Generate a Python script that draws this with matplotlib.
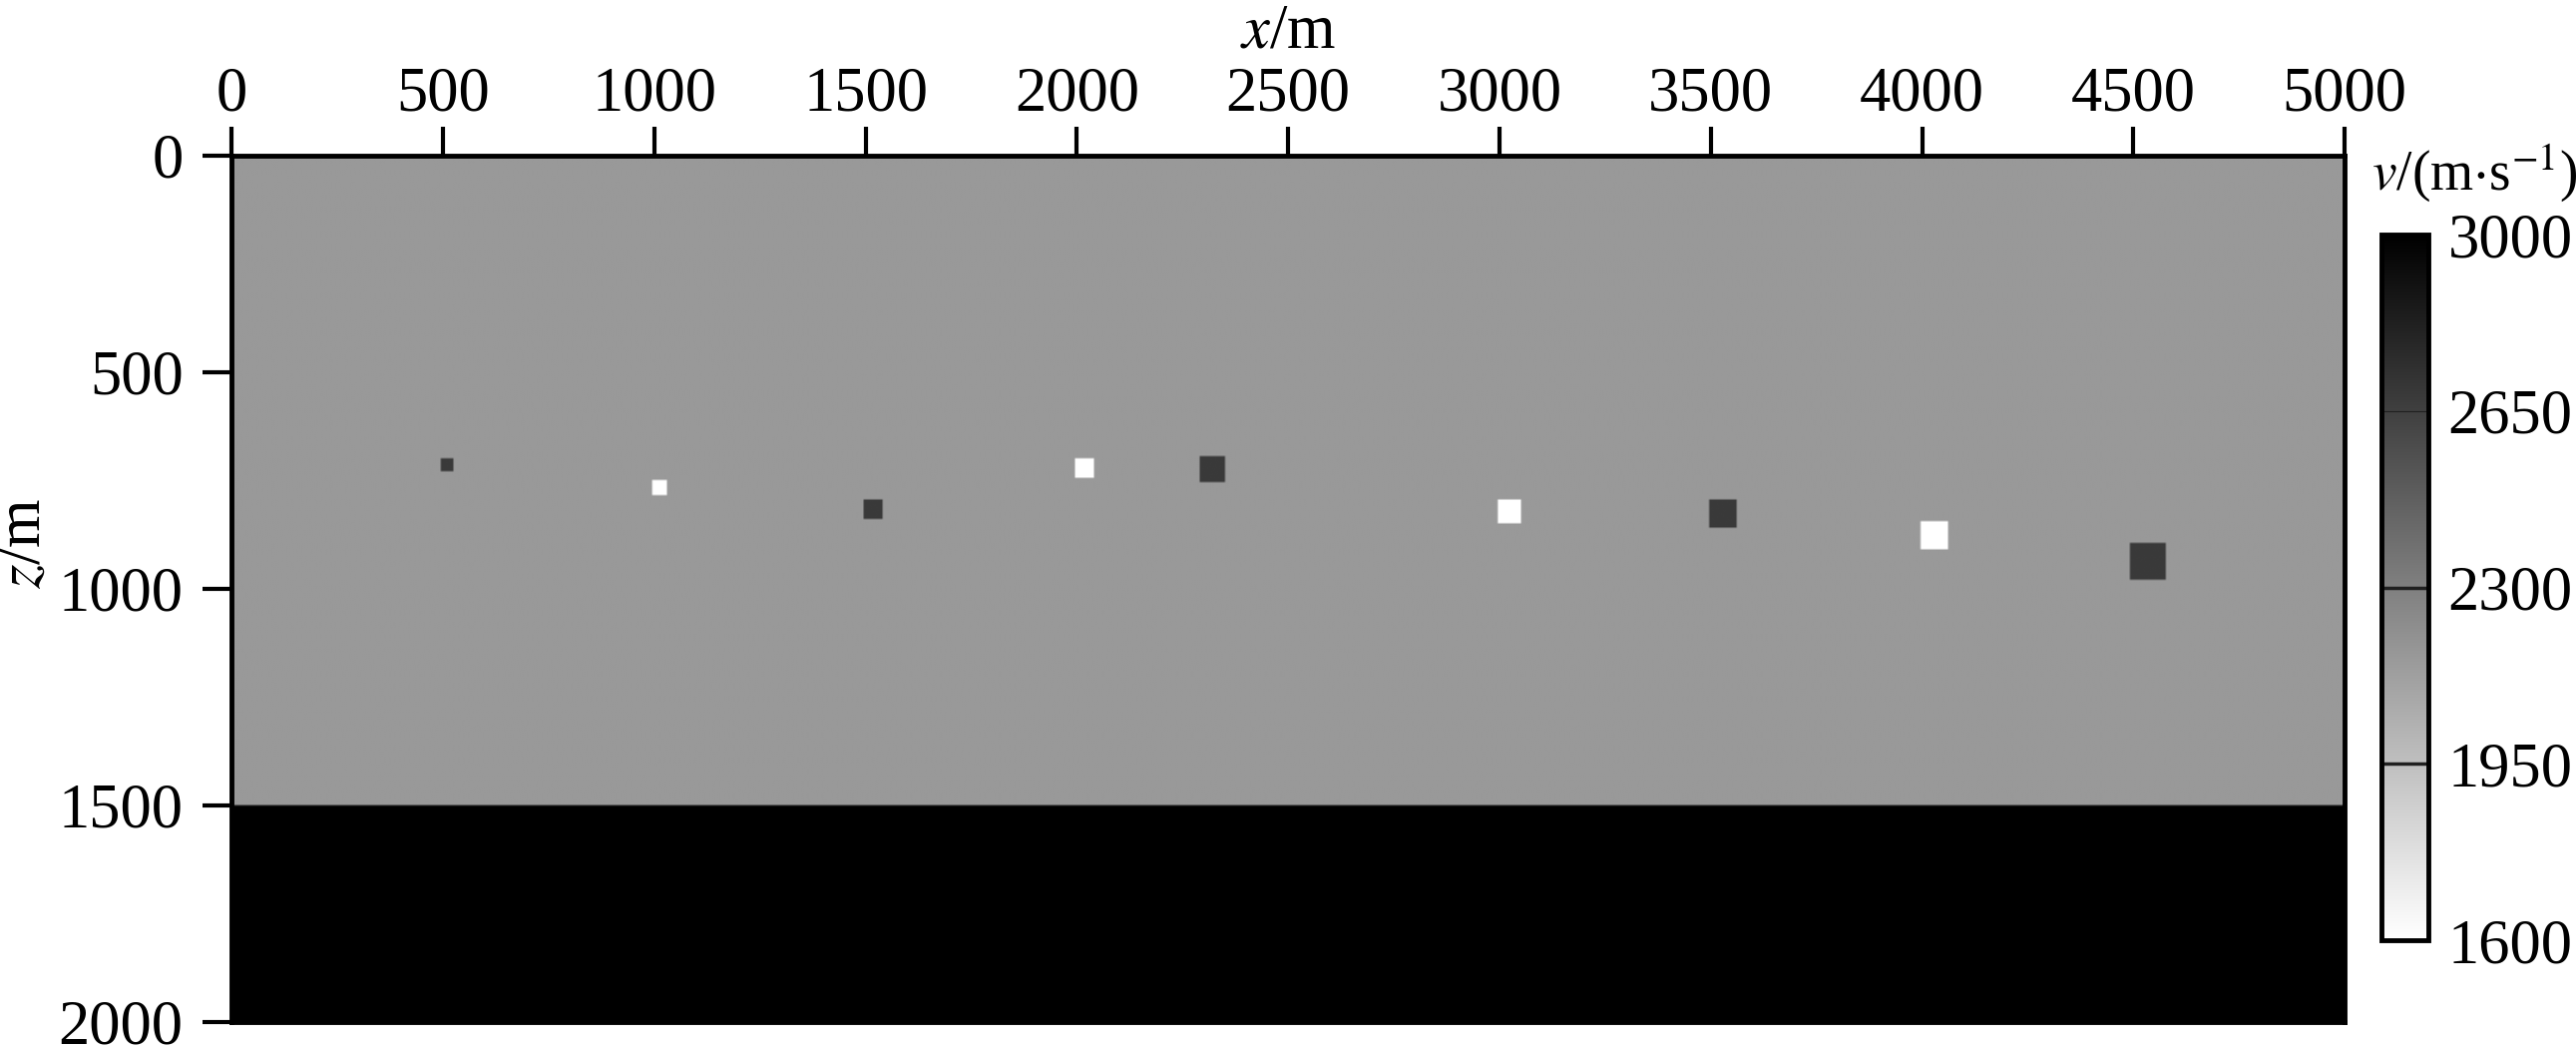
import numpy as np
import matplotlib
matplotlib.use("Agg")
import matplotlib.pyplot as plt

plt.rcParams['font.family'] = ['Liberation Serif', 'DejaVu Serif']
plt.rcParams['mathtext.fontset'] = 'stix'

# ---- data ----
x_max = 5000.0
z_max = 2000.0
v_background = 2160.0
interface_z = 1500.0
v_bottom = 3000.0
sq_x = [497, 995, 1495, 1993, 2292, 2994, 3494, 3993, 4490]       # left edge (m)
sq_z = [700, 748, 797, 698, 696, 797, 797, 847, 897]              # top edge (m)
sq_size = [30, 35, 45, 48, 58, 55, 65, 65, 85]                    # side (m)
sq_v = [2680, 1600, 2680, 1600, 2680, 1600, 2680, 1600, 2680]     # velocity (m/s)
x_ticks = [0, 500, 1000, 1500, 2000, 2500, 3000, 3500, 4000, 4500, 5000]
z_ticks = [0, 500, 1000, 1500, 2000]
cbar_ticks = [1600, 1950, 2300, 2650, 3000]
cbar_lines = [1950, 2300, 2650]
v_min, v_max = 1600, 3000

# ---- build model grid ----
dx = 5.0
nx = int(x_max / dx)
nz = int(z_max / dx)
xc = (np.arange(nx) + 0.5) * dx
zc = (np.arange(nz) + 0.5) * dx
X, Z = np.meshgrid(xc, zc)
V = np.full((nz, nx), v_background)
V[Z >= interface_z] = v_bottom
for x0, z0, s, v in zip(sq_x, sq_z, sq_size, sq_v):
    m = (X >= x0) & (X < x0 + s) & (Z >= z0) & (Z < z0 + s)
    V[m] = v

fs = 45
fig = plt.figure(figsize=(25.82, 10.51), dpi=100)
ax = fig.add_axes([0.0899, 0.0257, 0.8203, 0.8259])
im = ax.imshow(V, cmap='gray_r', vmin=v_min, vmax=v_max, extent=[0, x_max, z_max, 0],
               aspect='auto', interpolation='bilinear')
ax.set_xlim(0, x_max)
ax.set_ylim(z_max, 0)
ax.xaxis.tick_top()
ax.xaxis.set_label_position('top')
ax.set_xticks(x_ticks)
ax.set_yticks(z_ticks)
ax.tick_params(axis='both', direction='out', length=21, width=3, labelsize=fs)
ax.tick_params(axis='x', pad=2)
ax.tick_params(axis='y', pad=14)
ax.set_xlabel(r'$x$/m', fontsize=fs)
ax.set_ylabel(r'$z$/m', fontsize=fs)
ax.xaxis.set_label_coords(0.5, 1.125)
ax.yaxis.set_label_coords(-0.084, 0.552)
for sp in ax.spines.values():
    sp.set_linewidth(3.5)

cax = fig.add_axes([0.9245, 0.1037, 0.0182, 0.6727])
cb = fig.colorbar(im, cax=cax, ticks=cbar_ticks)
cb.outline.set_linewidth(3.5)
cax.tick_params(length=0, labelsize=fs, pad=14)
for t in cbar_lines:
    cax.axhline(t, color='#202020', lw=2.5 if t != 2650 else 0.8)
fig.text(0.9605, 0.836, r'$v$/(m$\cdot$s$^{-1}$)', fontsize=40, ha='center', va='center')

fig.savefig('out.png', dpi=100)
